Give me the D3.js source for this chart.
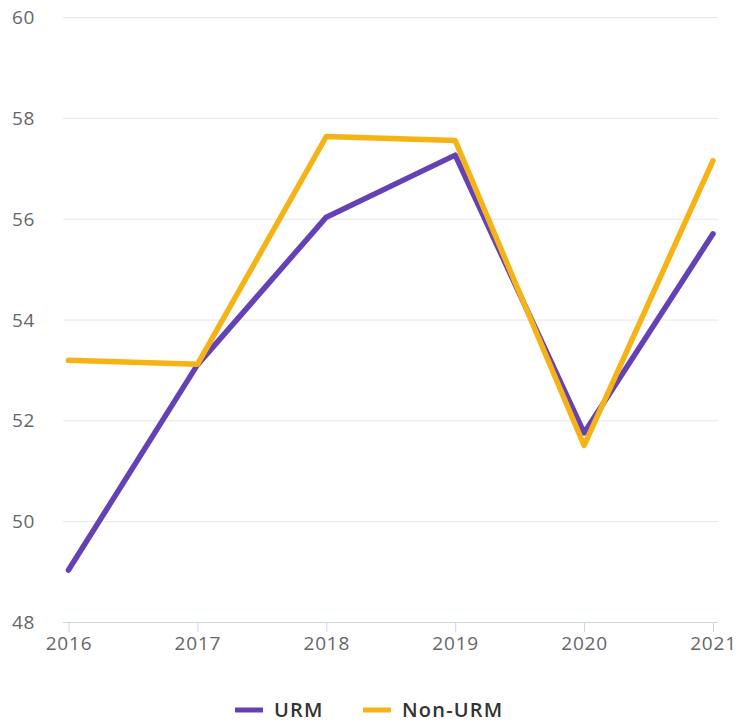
<!DOCTYPE html>
<html>
<head>
<meta charset="utf-8">
<script src="https://cdn.jsdelivr.net/npm/d3@7/dist/d3.min.js"></script>
<style>
  html, body { margin: 0; padding: 0; background: #fff; }
  svg { display: block; }
  text { font-family: "Open Sans", "Noto Sans", sans-serif; }
</style>
</head>
<body>
<svg id="chart" width="736" height="722"></svg>
<script>
// Yearly values for the two groups
const years = [2016, 2017, 2018, 2019, 2020, 2021];
const urm = [49.03, 53.1, 56.03, 57.26, 51.75, 55.7];
const nonUrm = [53.19, 53.11, 57.63, 57.55, 51.5, 57.15];
const yTicks = [48, 50, 52, 54, 56, 58, 60];
const seriesNames = ["URM", "Non-URM"];
const seriesColors = ["#6441b4", "#f5b316"];

const svg = d3.select("#chart");
const plotLeft = 63, plotRight = 718, plotTop = 17, plotBottom = 622;

const x = d3.scaleLinear().domain([2016, 2021]).range([68.5, 713]);
const y = d3.scaleLinear().domain([48, 60]).range([plotBottom, plotTop]);

// Horizontal grid lines
svg.append("g").selectAll("line")
  .data(yTicks.filter(t => t !== 48))
  .join("line")
  .attr("x1", plotLeft).attr("x2", plotRight)
  .attr("y1", d => y(d) + 0.5).attr("y2", d => y(d) + 0.5)
  .attr("stroke", "#e6e6e6").attr("stroke-width", 1);

// Y-axis labels
const yAxis = d3.axisLeft(y).tickValues(yTicks).tickSize(0).tickPadding(0);
const gy = svg.append("g").attr("transform", "translate(35,0)").call(yAxis);
gy.select(".domain").remove();
gy.selectAll("text")
  .attr("fill", "#666").attr("font-size", 19).attr("letter-spacing", 0.6)
  .attr("dy", "0.35em");

// X axis with baseline and tick marks
const xAxis = d3.axisBottom(x).tickValues(years).tickFormat(d3.format("d"))
  .tickSize(10).tickPadding(5).tickSizeOuter(0);
const gx = svg.append("g").attr("transform", `translate(0,${plotBottom})`).call(xAxis);
gx.select(".domain").attr("d", `M${plotLeft},0.5H${plotRight}`).attr("stroke", "#ccd6eb");
gx.selectAll(".tick line").attr("stroke", "#ccd6eb");
gx.selectAll("text").attr("fill", "#666").attr("font-size", 19).attr("letter-spacing", 0.8);

// Series lines
const line = d3.line().x((d, i) => x(years[i])).y(d => y(d));
[urm, nonUrm].forEach((vals, k) => {
  svg.append("path")
    .datum(vals)
    .attr("d", line)
    .attr("fill", "none")
    .attr("stroke", seriesColors[k])
    .attr("stroke-width", 5.5)
    .attr("stroke-linejoin", "round")
    .attr("stroke-linecap", "round");
});

// Legend
const legend = svg.append("g").attr("transform", "translate(0,710)");
const legendItems = [
  { name: seriesNames[0], color: seriesColors[0], x: 235 },
  { name: seriesNames[1], color: seriesColors[1], x: 363 }
];
legendItems.forEach(it => {
  legend.append("line")
    .attr("x1", it.x).attr("x2", it.x + 28)
    .attr("y1", 0).attr("y2", 0)
    .attr("stroke", it.color).attr("stroke-width", 5);
  legend.append("text")
    .attr("x", it.x + 39).attr("y", 0).attr("dy", "0.36em")
    .attr("fill", "#333").attr("font-size", 20).attr("font-weight", 600)
    .attr("letter-spacing", 1.2)
    .text(it.name);
});
</script>
</body>
</html>
